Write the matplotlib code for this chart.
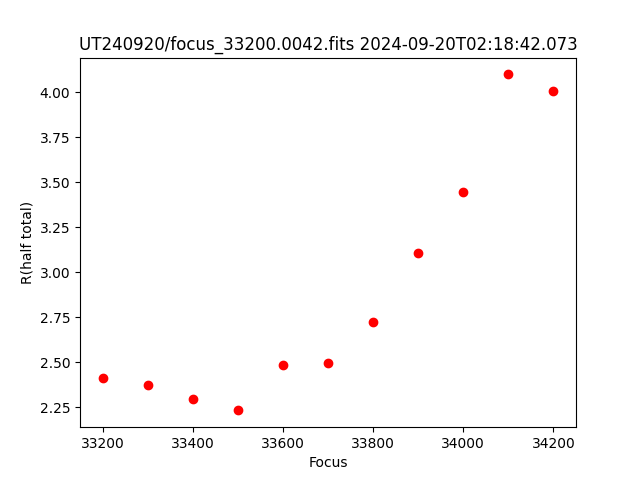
import matplotlib
matplotlib.use('Agg')
import matplotlib.pyplot as plt

focus = [33200, 33300, 33400, 33500, 33600, 33700, 33800, 33900, 34000, 34100, 34200]
r_half = [2.411, 2.372, 2.294, 2.233, 2.483, 2.494, 2.722, 3.106, 3.444, 4.100, 4.006]

fig = plt.figure(figsize=(6.4, 4.8), dpi=100)
plt.plot(focus, r_half, 'ro')
plt.title("UT240920/focus_33200.0042.fits 2024-09-20T02:18:42.073")
plt.xlabel("Focus")
plt.ylabel("R(half total)")
fig.savefig('out.png')
